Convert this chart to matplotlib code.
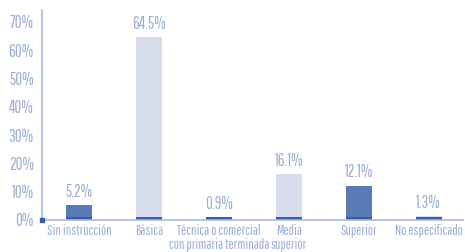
import matplotlib
matplotlib.use("Agg")
import matplotlib.pyplot as plt

categories = ["Sin instrucción", "Básica", "Técnica o comercial\ncon primaria terminada",
              "Media\nsuperior", "Superior", "No especificado"]
values = [5.2, 64.5, 0.9, 16.1, 12.1, 1.3]
dark = [True, False, True, False, True, False]
yticks = [0, 10, 20, 30, 40, 50, 60, 70]

plt.rcParams['font.family'] = ['Pathway Gothic One', 'Roboto Condensed', 'DejaVu Sans']

text_c = "#9aaed6"
dark_c = "#5a7ab6"
light_c = "#d7ddea"
strip_c = "#3a5ca8"
axis_c = "#a9b9de"

fig = plt.figure(figsize=(4.65, 2.52), dpi=100)
ax = fig.add_axes([42 / 465, 32 / 252, 421 / 465, 210 / 252])

x = list(range(len(values)))
cols = [dark_c if d else light_c for d in dark]
ax.bar(x, values, width=0.37, color=cols, zorder=2)
ax.bar(x, [0.9] * len(x), width=0.37, color=strip_c, zorder=3)

for xi, v in zip(x, values):
    ax.text(xi, v + 2.0, f"{v}%", ha="center", va="bottom", color=text_c, fontsize=12)

ax.set_xlim(-0.53, 5.49)
ax.set_ylim(0, 74.2)
ax.set_yticks(yticks)
ax.set_yticklabels([f"{t}%" for t in yticks], color=text_c, fontsize=12)
ax.set_xticks(x)
ax.set_xticklabels(categories, color=text_c, fontsize=10, linespacing=1.0, va="top")
ax.tick_params(length=0, pad=3)
ax.tick_params(axis="y", pad=6)

for s in ["top", "right"]:
    ax.spines[s].set_visible(False)
ax.spines["left"].set_color(axis_c)
ax.spines["left"].set_linewidth(1.2)
ax.spines["bottom"].set_color(axis_c)
ax.spines["bottom"].set_linewidth(1.2)
ax.spines["bottom"].set_zorder(4)
ax.plot([-0.53], [0], marker="s", markersize=2.5, color=strip_c, clip_on=False, zorder=5)

fig.savefig("out.png", dpi=100)
